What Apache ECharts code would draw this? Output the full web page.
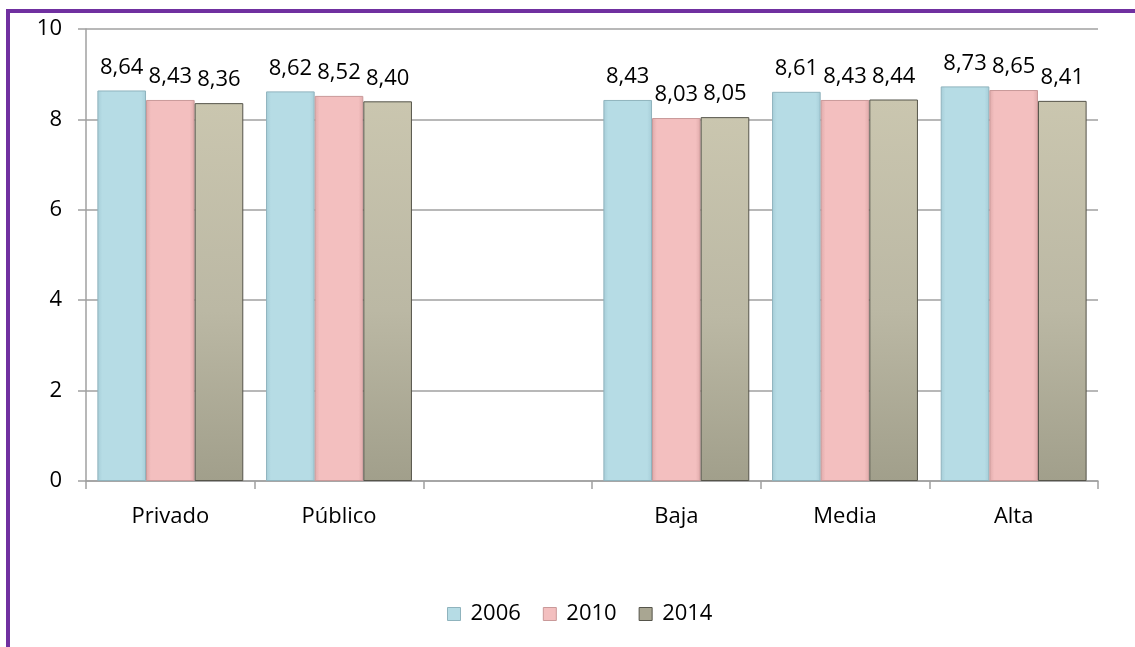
<!DOCTYPE html>
<html>
<head>
<meta charset="utf-8">
<script src="https://cdn.jsdelivr.net/npm/echarts@6/dist/echarts.min.js"></script>
<style>
html,body{margin:0;padding:0;background:#fff;}
#c{width:1135px;height:647px;}
</style>
</head>
<body>
<div id="c"></div>
<script>
const categories = ['Privado', 'Público', '', 'Baja', 'Media', 'Alta'];
const seriesNames = ['2006', '2010', '2014'];
const values2006 = [8.64, 8.62, null, 8.43, 8.61, 8.73];
const values2010 = [8.43, 8.52, null, 8.03, 8.43, 8.65];
const values2014 = [8.36, 8.40, null, 8.05, 8.44, 8.41];
const yTicks = [0, 2, 4, 6, 8, 10];

const FONT = '"Open Sans", sans-serif';

function hGrad(edge, mid) {
  return new echarts.graphic.LinearGradient(0, 0, 1, 0, [
    {offset: 0, color: edge},
    {offset: 0.1, color: mid},
    {offset: 0.9, color: mid},
    {offset: 1, color: edge}
  ]);
}
function vGrad(top, mid, bottom) {
  return new echarts.graphic.LinearGradient(0, 0, 0, 1, [
    {offset: 0, color: top},
    {offset: 0.55, color: mid},
    {offset: 1, color: bottom}
  ]);
}

const styles = [
  {color: hGrad('#a6cdd8', '#b6dce5'), borderColor: '#8fb3bd', legend: '#b6dce5'},
  {color: hGrad('#dfaaaa', '#f3bfbf'), borderColor: '#c99999', legend: '#f3bfbf'},
  {color: vGrad('#cac6af', '#bbb8a4', '#a19f8b'), borderColor: '#55544a', legend: '#a9a692'}
];
const allValues = [values2006, values2010, values2014];

const series = seriesNames.map((name, i) => ({
  name: name,
  type: 'bar',
  barGap: '0%',
  barCategoryGap: '13.5%',
  data: allValues[i],
  itemStyle: {color: styles[i].color, borderColor: styles[i].borderColor, borderWidth: 1},
  label: {
    show: true,
    position: 'top',
    distance: 12,
    fontFamily: FONT,
    fontSize: 22,
    color: '#000',
    formatter: p => p.value == null ? '' : p.value.toFixed(2).replace('.', ',')
  }
}));

const chart = echarts.init(document.getElementById('c'), null, {renderer: 'canvas'});
chart.setOption({
  animation: false,
  backgroundColor: '#fff',
  grid: {left: 86, right: 37, top: 29, bottom: 166, containLabel: false},
  legend: {
    data: seriesNames.map((n, i) => ({name: n, itemStyle: {color: styles[i].legend, borderColor: styles[i].borderColor, borderWidth: 1}})),
    top: 598,
    left: 442,
    icon: 'rect',
    itemWidth: 13,
    itemHeight: 13,
    itemGap: 22,
    textStyle: {fontFamily: FONT, fontSize: 22, color: '#000', padding: [0, 0, 0, 5]}
  },
  xAxis: {
    type: 'category',
    data: categories,
    axisLine: {show: true, lineStyle: {color: '#a0a0a0', width: 1.5}},
    axisTick: {show: true, length: 8, lineStyle: {color: '#a0a0a0', width: 1.5}},
    axisLabel: {fontFamily: FONT, fontSize: 22, color: '#000', margin: 25}
  },
  yAxis: {
    type: 'value',
    min: yTicks[0],
    max: yTicks[yTicks.length - 1],
    interval: 2,
    axisLine: {show: true, lineStyle: {color: '#a0a0a0', width: 1.5}},
    axisTick: {show: true, length: 8, lineStyle: {color: '#a0a0a0', width: 1.5}},
    splitLine: {show: true, lineStyle: {color: '#a0a0a0', width: 1.5}},
    axisLabel: {fontFamily: FONT, fontSize: 22, color: '#000', margin: 24}
  },
  series: series,
  graphic: [{
    type: 'polyline',
    shape: {points: [[8, 660], [8, 11], [1140, 11]]},
    style: {stroke: '#7030a0', lineWidth: 4, fill: null},
    silent: true
  }]
});
</script>
</body>
</html>
